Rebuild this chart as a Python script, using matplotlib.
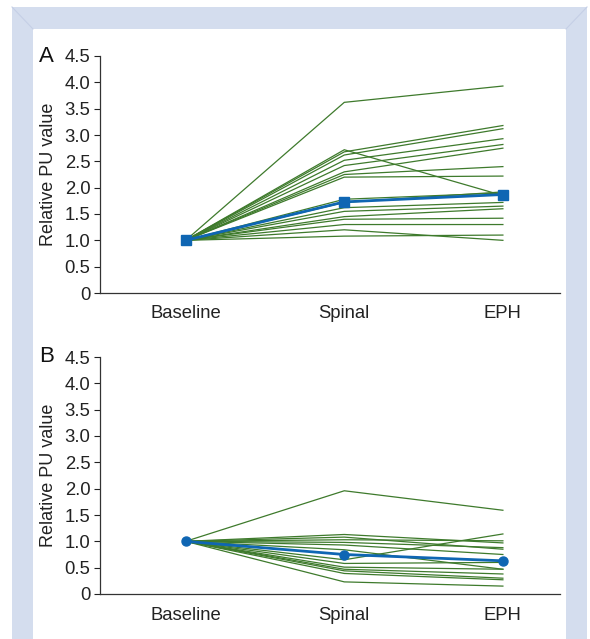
import matplotlib
matplotlib.use("Agg")
import matplotlib.pyplot as plt
from matplotlib.patches import Rectangle
from matplotlib.lines import Line2D

plt.rcParams['font.family'] = ['Liberation Sans', 'DejaVu Sans']

categories = ["Baseline", "Spinal", "EPH"]
yticks = [0, 0.5, 1.0, 1.5, 2.0, 2.5, 3.0, 3.5, 4.0, 4.5]
ytick_labels = ["0", "0.5", "1.0", "1.5", "2.0", "2.5", "3.0", "3.5", "4.0", "4.5"]

# Panel A individual subjects: (Spinal, EPH), baseline = 1.0
a_spinal = [3.62, 2.72, 2.68, 2.62, 2.52, 2.42, 2.30, 2.25, 2.20, 1.78, 1.72, 1.62, 1.55, 1.45, 1.40, 1.30, 1.20, 1.08]
a_eph    = [3.93, 1.85, 3.18, 3.12, 2.93, 2.82, 2.75, 2.40, 2.22, 1.90, 1.92, 1.72, 1.65, 1.60, 1.42, 1.30, 1.00, 1.10]
a_mean = [1.0, 1.73, 1.87]

# Panel B individual subjects
b_spinal = [1.96, 1.13, 1.08, 1.03, 0.98, 0.93, 0.84, 0.65, 0.58, 0.51, 0.47, 0.44, 0.39, 0.23]
b_eph    = [1.59, 0.97, 0.85, 1.01, 0.88, 0.75, 0.47, 1.14, 0.60, 0.47, 0.38, 0.30, 0.27, 0.15]
b_mean = [1.0, 0.75, 0.63]

GREEN = "#3e7a2c"
BLUE = "#0f66b3"
FRAME = "#d4ddee"

W, H = 590, 639
fig = plt.figure(figsize=(W / 100, H / 100), dpi=100)
fig.patch.set_facecolor("white")

# frame
fig.patches.append(Rectangle((12 / W, 0), (587 - 12) / W, (639 - 7) / H,
                             transform=fig.transFigure, facecolor=FRAME, edgecolor="none", zorder=-10))
fig.patches.append(Rectangle((33 / W, 0), (566 - 33) / W, (639 - 29) / H,
                             transform=fig.transFigure, facecolor="white", edgecolor="none", zorder=-9))
for (x0, y0, x1, y1) in [(12, 7, 33, 29), (587, 7, 566, 29)]:
    fig.lines.append(Line2D([x0 / W, x1 / W], [1 - y0 / H, 1 - y1 / H], transform=fig.transFigure,
                            color="#c5cfe6", lw=0.8, zorder=-8))

x = list(range(len(categories)))


def make_panel(ax, spinal, eph, mean, marker, ms, letter):
    for s, e in zip(spinal, eph):
        ax.plot(x, [1.0, s, e], color=GREEN, lw=0.9, solid_joinstyle="miter")
    ax.plot(x, mean, color=BLUE, lw=2.0, marker=marker, ms=ms, mfc=BLUE, mec=BLUE, zorder=5)
    ax.set_ylim(0, 4.5)
    ax.set_xlim(-0.54, 2.36)
    ax.set_yticks(yticks)
    ax.set_yticklabels(ytick_labels)
    ax.set_xticks(x)
    ax.set_xticklabels(categories)
    ax.tick_params(axis="x", length=0, labelsize=13.3, pad=9, colors="#222222")
    ax.tick_params(axis="y", length=4, width=0.8, labelsize=13.3, pad=3, colors="#222222", direction="out")
    for side in ("top", "right"):
        ax.spines[side].set_visible(False)
    for side in ("left", "bottom"):
        ax.spines[side].set_color("#333333")
        ax.spines[side].set_linewidth(0.9)
    ax.set_ylabel("Relative PU value", fontsize=13, labelpad=5, color="#222222")
    ax.text(-0.132, 1.0, letter, transform=ax.transAxes, fontsize=16, ha="left", va="center",
            color="#111111")


left = 100 / W
width = (560 - 100) / W
height = (293 - 56) / H
axA = fig.add_axes([left, 1 - 293 / H, width, height])
axB = fig.add_axes([left, 1 - 594 / H, width, height])
make_panel(axA, a_spinal, a_eph, a_mean, "s", 7, "A")
make_panel(axB, b_spinal, b_eph, b_mean, "o", 6.5, "B")

fig.savefig("out.png", dpi=100)
